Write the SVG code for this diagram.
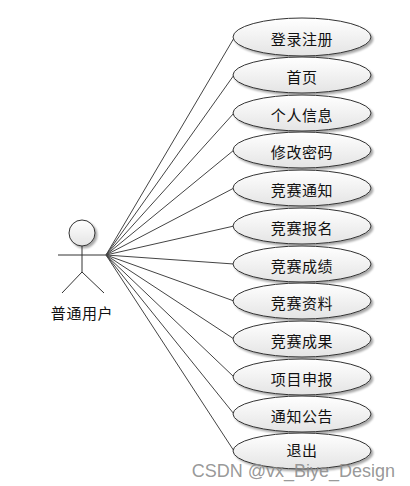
<svg xmlns="http://www.w3.org/2000/svg" width="410" height="486" viewBox="0 0 410 486">
<defs>
<linearGradient id="g" x1="0" y1="0" x2="0" y2="1">
<stop offset="0" stop-color="#ffffff"/>
<stop offset="1" stop-color="#e4e4e4"/>
</linearGradient>
<filter id="sh" x="-10%" y="-20%" width="125%" height="150%">
<feGaussianBlur in="SourceAlpha" stdDeviation="1.2"/>
<feOffset dx="2" dy="2" result="b"/>
<feComponentTransfer><feFuncA type="linear" slope="0.35"/></feComponentTransfer>
<feMerge><feMergeNode/><feMergeNode in="SourceGraphic"/></feMerge>
</filter>
</defs>
<style>
.uc{fill:url(#g);stroke:#333;stroke-width:1;filter:url(#sh)}
.t{font-family:"Noto Sans CJK SC",sans-serif;font-size:15px;letter-spacing:0.6px;fill:#111;text-anchor:middle;dominant-baseline:central}
.c line{stroke:#444;stroke-width:1}
.a{stroke:#333;stroke-width:1;fill:none}
</style>
<rect width="410" height="486" fill="#fff"/>
<g class="c">
<line x1="106" y1="255" x2="234" y2="38"/>
<line x1="106" y1="255" x2="234" y2="75"/>
<line x1="106" y1="255" x2="234" y2="113"/>
<line x1="106" y1="255" x2="234" y2="150"/>
<line x1="106" y1="255" x2="234" y2="188"/>
<line x1="106" y1="255" x2="234" y2="226"/>
<line x1="106" y1="255" x2="234" y2="264"/>
<line x1="106" y1="255" x2="234" y2="301"/>
<line x1="106" y1="255" x2="234" y2="339"/>
<line x1="106" y1="255" x2="234" y2="377"/>
<line x1="106" y1="255" x2="234" y2="414"/>
<line x1="106" y1="255" x2="234" y2="451"/>
</g>
<g id="actor">
<circle cx="82" cy="233" r="13" fill="url(#g)" stroke="#333" filter="url(#sh)"/>
<line class="a" x1="82" y1="246" x2="82" y2="272"/>
<line class="a" x1="58" y1="255" x2="106" y2="255"/>
<line class="a" x1="82" y1="272" x2="62" y2="293"/>
<line class="a" x1="82" y1="272" x2="104" y2="293"/>
<text class="t" x="82" y="312">普通用户</text>
</g>
<g id="uc1"><ellipse class="uc" cx="302" cy="37" rx="69" ry="19"/><text class="t" x="302" y="38">登录注册</text></g>
<g id="uc2"><ellipse class="uc" cx="302" cy="75" rx="69" ry="18"/><text class="t" x="302" y="76">首页</text></g>
<g id="uc3"><ellipse class="uc" cx="302" cy="113" rx="69" ry="18"/><text class="t" x="302" y="114">个人信息</text></g>
<g id="uc4"><ellipse class="uc" cx="302" cy="150" rx="69" ry="18"/><text class="t" x="302" y="151">修改密码</text></g>
<g id="uc5"><ellipse class="uc" cx="302" cy="188" rx="69" ry="18"/><text class="t" x="302" y="189">竞赛通知</text></g>
<g id="uc6"><ellipse class="uc" cx="302" cy="226" rx="69" ry="18"/><text class="t" x="302" y="227">竞赛报名</text></g>
<g id="uc7"><ellipse class="uc" cx="302" cy="264" rx="69" ry="18"/><text class="t" x="302" y="265">竞赛成绩</text></g>
<g id="uc8"><ellipse class="uc" cx="302" cy="301" rx="69" ry="18"/><text class="t" x="302" y="302">竞赛资料</text></g>
<g id="uc9"><ellipse class="uc" cx="302" cy="339" rx="69" ry="18"/><text class="t" x="302" y="340">竞赛成果</text></g>
<g id="uc10"><ellipse class="uc" cx="302" cy="377" rx="69" ry="18"/><text class="t" x="302" y="378">项目申报</text></g>
<g id="uc11"><ellipse class="uc" cx="302" cy="414" rx="69" ry="18"/><text class="t" x="302" y="415">通知公告</text></g>
<g id="uc12"><ellipse class="uc" cx="302" cy="451" rx="69" ry="18"/><text class="t" x="302" y="449">退出</text></g>
<text x="395" y="471" font-family="Liberation Sans, sans-serif" font-size="18" fill="#8c8c8c" fill-opacity="0.9" text-anchor="end" dominant-baseline="central">CSDN @vx_Biye_Design</text>
</svg>
